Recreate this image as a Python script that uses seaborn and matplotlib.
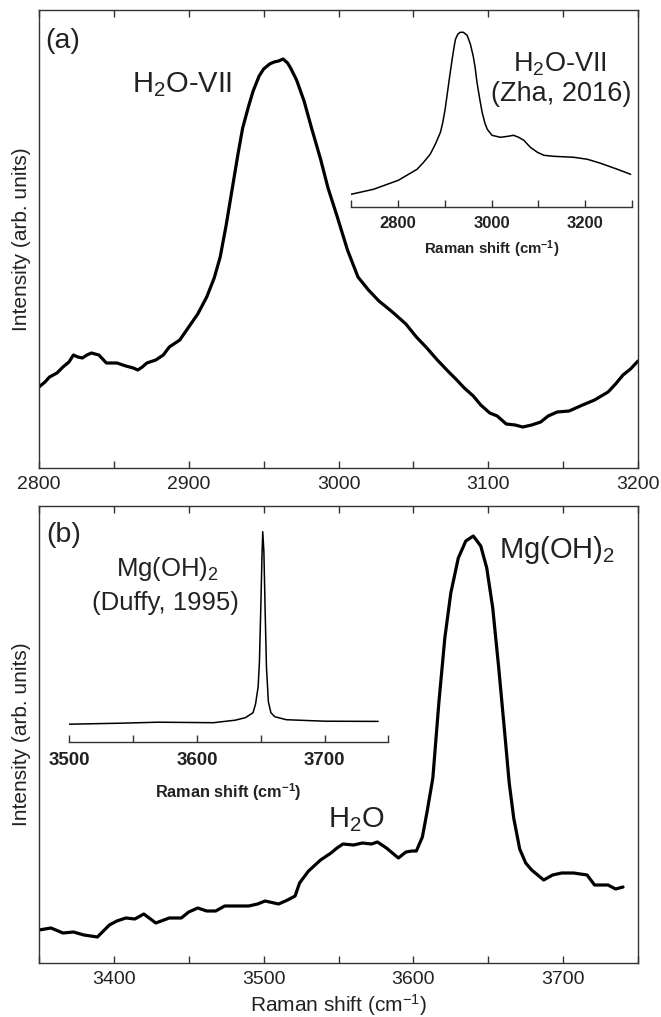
import numpy as np
import pandas as pd
import matplotlib
matplotlib.use("Agg")
import matplotlib.pyplot as plt
import seaborn as sns
from matplotlib.ticker import MultipleLocator, FixedLocator

# ---------------- data ----------------
# Panel (a): measured H2O-VII spectrum
a_shift = [2800, 2804, 2807, 2812, 2816, 2820, 2823, 2826, 2829, 2832, 2835, 2840, 2845,
           2852, 2858, 2863, 2866, 2869, 2872, 2878, 2883, 2887, 2894, 2900, 2906, 2912,
           2917, 2921, 2925, 2929, 2933, 2936, 2940, 2943, 2947, 2950, 2954, 2957, 2960,
           2963, 2966, 2968, 2972, 2977, 2982, 2988, 2993, 2999, 3006, 3013, 3020, 3027,
           3036, 3045, 3052, 3059, 3066, 3073, 3079, 3084, 3090, 3095, 3101, 3106, 3112,
           3118, 3123, 3129, 3135, 3140, 3146, 3154, 3163, 3171, 3180, 3185, 3190, 3195,
           3200]
a_int = [81, 86, 91, 95, 101, 106, 113, 111, 110, 113, 115, 113, 105,
         105, 102, 100, 98, 101, 105, 108, 113, 121, 128, 141, 154, 171,
         190, 211, 243, 279, 315, 340, 362, 377, 392, 399, 404, 406, 407,
         409, 405, 400, 388, 367, 340, 309, 280, 252, 218, 191, 178, 167,
         156, 144, 131, 120, 108, 97, 88, 80, 72, 63, 55, 52, 44,
         43, 41, 43, 46, 52, 56, 57, 63, 68, 76, 84, 93, 99,
         107]

# Panel (a) inset: H2O-VII reference (Zha, 2016)
a_ref_shift = [2700, 2748, 2801, 2841, 2855, 2869, 2880, 2891, 2896, 2901, 2906, 2911,
               2916, 2920, 2923, 2928, 2933, 2940, 2948, 2955, 2961, 2965, 2969, 2975,
               2980, 2986, 2991, 3001, 3019, 3035, 3047, 3058, 3069, 3083, 3098, 3112,
               3133, 3176, 3205, 3233, 3269, 3297]
a_ref_int = [13, 18, 27, 38, 45, 53, 63, 75, 85, 98, 115, 132,
             148, 160, 168, 173, 175, 175, 172, 163, 151, 140, 125, 108,
             95, 84, 78, 72, 70, 71, 72, 70, 67, 60, 55, 52,
             51, 50, 48, 44, 38, 33]

# Panel (b): measured spectrum
b_shift = [3350, 3358, 3366, 3373, 3380, 3389, 3397, 3402, 3408, 3414, 3420, 3428, 3437,
           3445, 3450, 3456, 3462, 3468, 3474, 3479, 3490, 3496, 3501, 3510, 3516, 3521,
           3524, 3530, 3538, 3545, 3549, 3553, 3560, 3566, 3572, 3576, 3582, 3586, 3590,
           3595, 3599, 3602, 3606, 3609, 3613, 3617, 3621, 3625, 3630, 3635, 3640, 3645,
           3649, 3653, 3657, 3661, 3664, 3667, 3671, 3675, 3679, 3687, 3693, 3699, 3707,
           3716, 3721, 3730, 3735, 3740]
b_int = [33, 35, 30, 31, 28, 26, 38, 42, 45, 44, 49, 40, 45,
         45, 51, 55, 52, 52, 57, 57, 57, 59, 62, 59, 63, 67,
         80, 92, 103, 110, 115, 119, 118, 120, 119, 121, 115, 110, 105,
         111, 112, 112, 126, 150, 185, 260, 325, 370, 405, 422, 427, 417,
         395, 355, 295, 230, 180, 145, 114, 100, 93, 83, 88, 90, 90,
         88, 78, 78, 74, 76]

# Panel (b) inset: Mg(OH)2 reference (Duffy, 1995)
b_ref_shift = [3500, 3540, 3570, 3613, 3630, 3638, 3644, 3646, 3648, 3649, 3650, 3651,
               3651.6, 3652.5, 3653.5, 3654.5, 3656, 3658, 3661, 3670, 3700, 3742]
b_ref_int = [17.5, 18.5, 19.5, 19, 21.5, 24, 29, 38, 55, 80, 130, 185,
             210, 190, 130, 75, 40, 29, 25, 22, 20.5, 20.3]

a_ticks_inset = [2800, 3000, 3200]
b_ticks_inset = [3500, 3600, 3700]

# ---------------- style ----------------
sns.set_style("ticks")
plt.rcParams['font.family'] = ['Liberation Sans', 'DejaVu Sans']
plt.rcParams['mathtext.fontset'] = 'custom'
plt.rcParams['mathtext.rm'] = 'Liberation Sans'
plt.rcParams['mathtext.it'] = 'Liberation Sans:italic'
plt.rcParams['mathtext.bf'] = 'Liberation Sans:bold'
plt.rcParams['axes.edgecolor'] = '#333333'
plt.rcParams['axes.linewidth'] = 1.0

W, H = 661, 1017
fig = plt.figure(figsize=(W / 100, H / 100), dpi=100)


def px_axes(x0, x1, y0, y1):
    return fig.add_axes([x0 / W, (H - y1) / H, (x1 - x0) / W, (y1 - y0) / H])


def style_main(ax, xlim, ylim):
    ax.set_xlim(*xlim)
    ax.set_ylim(*ylim)
    ax.xaxis.set_major_locator(MultipleLocator(100))
    ax.xaxis.set_minor_locator(MultipleLocator(50))
    ax.tick_params(axis='x', which='both', direction='in', top=True, bottom=True,
                   length=5, width=1.0, color='#333333', labelsize=14, pad=6)
    ax.set_yticks([])
    for s in ax.spines.values():
        s.set_visible(True)
        s.set_color('#333333')
    ax.set_ylabel("Intensity (arb. units)", fontsize=15, color='#222222')
    ax.yaxis.set_label_coords(-0.014, 0.5)
    ax.tick_params(axis='x', labelcolor='#222222')


def style_inset(ax, xlim, ylim, major, minor, lsize, labsize, pad, labelpad):
    ax.set_xlim(*xlim)
    ax.set_ylim(*ylim)
    ax.patch.set_alpha(0)
    for k in ['top', 'left', 'right']:
        ax.spines[k].set_visible(False)
    ax.spines['bottom'].set_color('#333333')
    ax.xaxis.set_major_locator(FixedLocator(major))
    ax.xaxis.set_minor_locator(FixedLocator(minor))
    ax.tick_params(axis='x', which='both', direction='in', length=5, width=1.0,
                   color='#333333', labelsize=lsize, pad=pad, labelcolor='#222222')
    for lab in ax.get_xticklabels():
        lab.set_fontweight('bold')
    ax.set_yticks([])
    ax.set_xlabel(r"Raman shift (cm$^{\mathbf{-1}}$)", fontsize=labsize,
                  fontweight='bold', labelpad=labelpad, color='#222222')


# ---------------- panel (a) ----------------
ax_a = px_axes(39, 638, 10, 468)
sns.lineplot(x=a_shift, y=a_int, ax=ax_a, color='black', lw=2.3, sort=False)
style_main(ax_a, (2800, 3200), (0, 458))
fig.text(45 / W, 1 - 47.5 / H, "(a)", fontsize=20.5, ha='left', va='baseline', color='#222222')
fig.text(182 / W, 1 - 92 / H, r"H$_2$O-VII", fontsize=21, ha='center', va='baseline', color='#222222')

ax_ai = px_axes(351, 632, 25, 207.3)
sns.lineplot(x=a_ref_shift, y=a_ref_int, ax=ax_ai, color='black', lw=1.1, sort=False)
style_inset(ax_ai, (2700, 3300), (0, 182.3), a_ticks_inset,
            [2700, 2900, 3100, 3300], 12, 10.8, 6.5, 5)
fig.text(560 / W, 1 - 71 / H, r"H$_2$O-VII", fontsize=19.5, ha='center', va='baseline', color='#222222')
fig.text(561 / W, 1 - 101 / H, "(Zha, 2016)", fontsize=19.5, ha='center', va='baseline', color='#222222')

# ---------------- panel (b) ----------------
ax_b = px_axes(39, 638, 506, 963)
sns.lineplot(x=b_shift, y=b_int, ax=ax_b, color='black', lw=2.3, sort=False)
style_main(ax_b, (3350, 3750), (0, 457))
ax_b.set_xlabel(r"Raman shift (cm$^{-1}$)", fontsize=15, labelpad=3, color='#222222')
fig.text(46 / W, 1 - 542.5 / H, "(b)", fontsize=20.5, ha='left', va='baseline', color='#222222')
fig.text(557 / W, 1 - 558 / H, r"Mg(OH)$_2$", fontsize=21, ha='center', va='baseline', color='#222222')
fig.text(356 / W, 1 - 827 / H, r"H$_2$O", fontsize=21, ha='center', va='baseline', color='#222222')

ax_bi = px_axes(69.3, 388.3, 520, 741.7)
sns.lineplot(x=b_ref_shift, y=b_ref_int, ax=ax_bi, color='black', lw=1.1, sort=False)
style_inset(ax_bi, (3500, 3750), (0, 221.7), b_ticks_inset,
            [3550, 3650, 3750], 13.5, 11.7, 7.3, 9)
fig.text(167 / W, 1 - 576 / H, r"Mg(OH)$_2$", fontsize=18.5, ha='center', va='baseline', color='#222222')
fig.text(165 / W, 1 - 610 / H, "(Duffy, 1995)", fontsize=18.5, ha='center', va='baseline', color='#222222')

fig.savefig("out.png", dpi=100, facecolor='white')
